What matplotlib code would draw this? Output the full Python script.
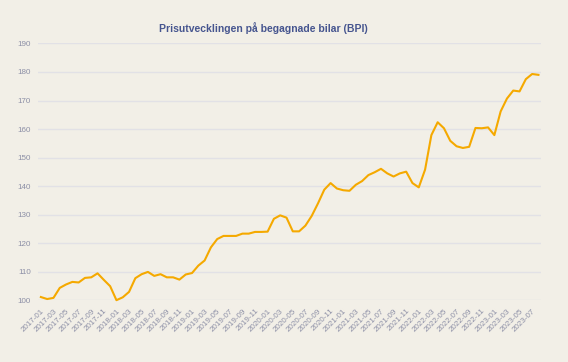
import numpy as np
import matplotlib
matplotlib.use("agg")
import matplotlib.pyplot as plt

# BPI, monthly, 2017-01 .. 2023-08
bpi = [101.2, 100.5, 100.9, 104.4, 105.6, 106.5, 106.3, 107.9, 108.1, 109.5,
       107.2, 105.0, 100.1, 101.1, 103.0, 107.8, 109.2, 110.0, 108.6, 109.2,
       108.1, 108.1, 107.3, 109.1, 109.6, 112.2, 114.0, 118.6, 121.5, 122.6,
       122.6, 122.6, 123.4, 123.4, 124.0, 124.0, 124.1, 128.6, 129.8, 129.0,
       124.2, 124.2, 126.2, 129.6, 134.0, 138.8, 141.1, 139.2, 138.6, 138.4,
       140.5, 141.8, 143.9, 144.9, 146.1, 144.5, 143.4, 144.5, 145.1, 141.1,
       139.6, 145.8, 157.9, 162.4, 160.3, 155.9, 154.0, 153.4, 153.8, 160.4,
       160.3, 160.6, 157.9, 166.2, 170.7, 173.5, 173.2, 177.5, 179.3, 179.0]
months = [f"{2017 + k // 12}-{k % 12 + 1:02d}" for k in range(len(bpi))]
y_ticks = [100, 110, 120, 130, 140, 150, 160, 170, 180, 190]

bg = "#f2efe7"
label_col = "#8c8fa6"

fig = plt.figure(figsize=(5.68, 3.62), dpi=100, facecolor=bg)
ax = fig.add_axes([0.0664, 0.170, 0.886, 0.710], facecolor=bg)

x = np.arange(len(bpi))
ax.plot(x, bpi, color="#f5a900", lw=1.5, clip_on=False, zorder=3)

ax.set_xlim(-0.5, 79.4)
ax.set_ylim(100, 190)
ax.set_yticks(y_ticks)
ax.set_xticks(x[::2])
ax.set_xticklabels(months[::2], rotation=45, ha="right", rotation_mode="anchor")
ax.grid(axis="y", color="#e2e1e6", lw=1)
ax.set_axisbelow(True)
for s in ax.spines.values():
    s.set_visible(False)
ax.tick_params(length=0, labelsize=5.8, labelcolor=label_col, pad=5,
               labelfontfamily="Liberation Sans")
ax.tick_params(axis="x", pad=5)

fig.text(0.463, 0.922, "Prisutvecklingen på begagnade bilar (BPI)",
         ha="center", va="center", fontsize=7.5, fontweight="bold",
         color="#46558f", family="Liberation Sans")

fig.savefig("out.png", dpi=100, facecolor=bg)
